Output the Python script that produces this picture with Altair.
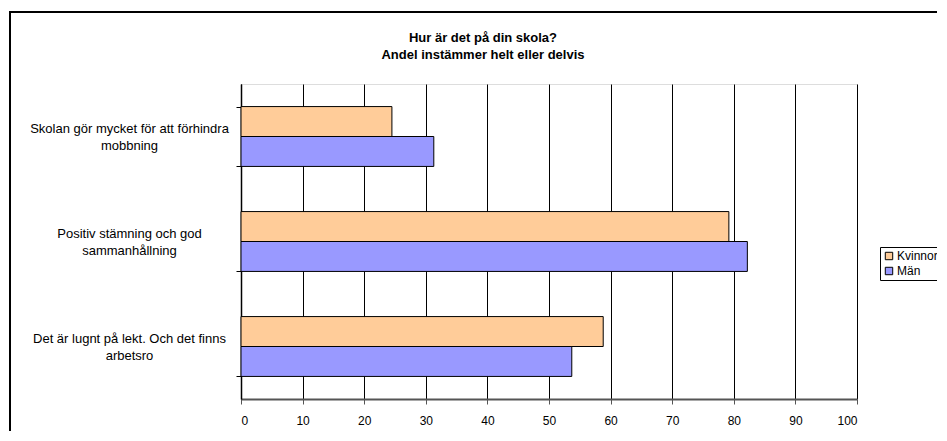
import altair as alt
import pandas as pd

categories = [
    "Skolan gör mycket för att förhindra|mobbning",
    "Positiv stämning och god|sammanhållning",
    "Det är lugnt på lekt. Och det finns|arbetsro",
]
groups = ["Kvinnor", "Män"]
kvinnor = [24.5, 79.2, 58.8]
man = [31.3, 82.2, 53.7]
x_ticks = list(range(0, 101, 10))
colors = ["#FFCC99", "#9999FF"]
title_lines = ["Hur är det på din skola?", "Andel instämmer helt eller delvis"]

rows = []
for c, k, m in zip(categories, kvinnor, man):
    rows.append({"category": c, "group": "Kvinnor", "value": k})
    rows.append({"category": c, "group": "Män", "value": m})
df = pd.DataFrame(rows)

FONT = "Liberation Sans"

bars = alt.Chart(df).mark_bar(stroke="#000000", strokeWidth=1).encode(
    y=alt.Y(
        "category:N",
        sort=categories,
        scale=alt.Scale(paddingInner=0.43, paddingOuter=0.215),
        axis=alt.Axis(
            title=None,
            labelExpr="split(datum.label, '|')",
            labelAlign="center",
            labelBaseline="middle",
            labelPadding=107,
            labelOffset=-8,
            labelFontSize=13,
            labelLineHeight=17,
            labelFont=FONT,
            labelColor="#000000",
            labelLimit=300,
            tickBand="extent",
            tickSize=5,
            tickColor="#000000",
            domainColor="#000000",
            domainWidth=1.5,
            grid=False,
        ),
    ),
    yOffset=alt.YOffset("group:N", sort=groups, scale=alt.Scale(paddingInner=0, paddingOuter=0)),
    x=alt.X(
        "value:Q",
        scale=alt.Scale(domain=[0, 100], nice=False),
        axis=alt.Axis(
            title=None,
            values=x_ticks,
            grid=True,
            gridColor="#000000",
            gridWidth=1,
            domainColor="#555555",
            domainWidth=2,
            tickColor="#555555",
            tickSize=5,
            labelFontSize=12,
            labelFont=FONT,
            labelColor="#000000",
            labelPadding=11,
        ),
    ),
    color=alt.Color(
        "group:N",
        sort=groups,
        scale=alt.Scale(domain=groups, range=colors),
        legend=alt.Legend(
            title=None,
            orient="none",
            legendX=639,
            legendY=163,
            strokeColor="#000000",
            padding=3,
            rowPadding=3,
            symbolType="square",
            symbolSize=55,
            symbolStrokeColor="#000000",
            symbolStrokeWidth=1,
            symbolOpacity=1,
            labelFontSize=12,
            labelFont=FONT,
            labelColor="#000000",
            labelOffset=2,
        ),
    ),
)

frame_df = pd.DataFrame({"f": [0]})
frame = alt.Chart(frame_df).mark_rect(
    fill=None, fillOpacity=0, stroke="#000000", strokeWidth=2
).encode(
    x=alt.value(-231), x2=alt.value(800), y=alt.value(-72), y2=alt.value(450)
)

title_df = pd.DataFrame({"t": ["\n".join(title_lines)]})
title = alt.Chart(title_df).mark_text(
    font=FONT, fontSize=13, fontWeight="bold", lineBreak="\n", lineHeight=17,
    align="center", baseline="middle", color="#000000"
).encode(text="t:N", x=alt.value(242), y=alt.value(-46))

chart = alt.layer(frame, title, bars).properties(
    width=616,
    height=315,
    autosize=alt.AutoSizeParams(type="none"),
    padding={"left": 233, "top": 76, "right": 80, "bottom": 32},
).configure_view(stroke="#888888", strokeWidth=1).configure(background="#ffffff")

chart.save("out.html", embed_options={"renderer": "svg", "actions": False})
